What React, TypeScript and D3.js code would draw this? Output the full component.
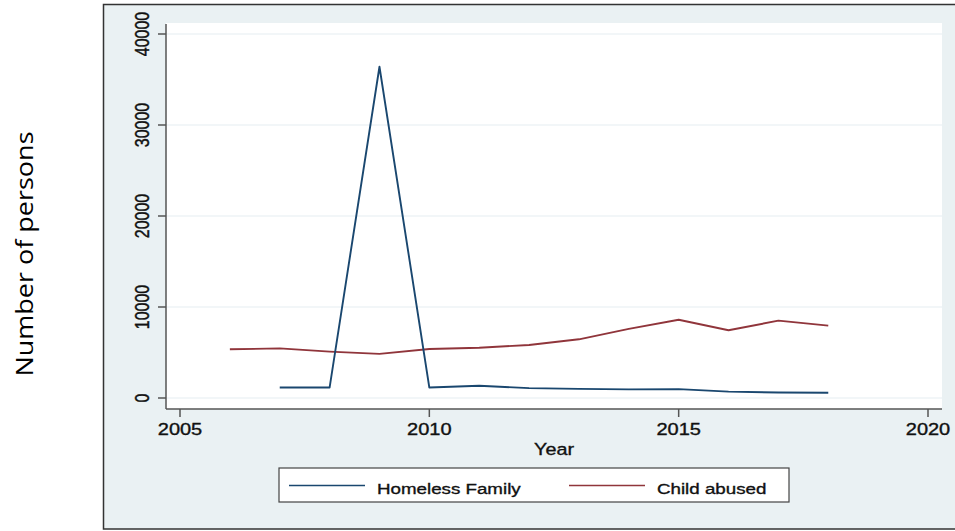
import React from "react";
import * as d3 from "d3";

const years = [2006, 2007, 2008, 2009, 2010, 2011, 2012, 2013, 2014, 2015, 2016, 2017, 2018];
const homelessYears = [2007, 2008, 2009, 2010, 2011, 2012, 2013, 2014, 2015, 2016, 2017, 2018];
const homelessFamily = [1150, 1150, 36400, 1150, 1350, 1080, 1000, 950, 980, 700, 600, 580];
const childAbused = [5350, 5450, 5100, 4850, 5380, 5530, 5820, 6450, 7600, 8600, 7450, 8500, 7950];
const xTicks = [2005, 2010, 2015, 2020];
const yTicks = [0, 10000, 20000, 30000, 40000];
const seriesNames = ["Homeless Family", "Child abused"];
const seriesColors = ["#1a476f", "#90353b"];

export default function App() {
  const W = 955, H = 531;
  const x = d3.scaleLinear().domain([2005, 2020]).range([180, 928]);
  const y = d3.scaleLinear().domain([0, 40000]).range([398, 34]);
  const plot = { left: 166, right: 942, top: 23, bottom: 409 };
  const font = "'Liberation Sans', Arial, sans-serif";

  const line = d3.line<[number, number]>().x(d => x(d[0])).y(d => y(d[1]));
  const hPath = line(homelessYears.map((yr, i) => [yr, homelessFamily[i]]));
  const cPath = line(years.map((yr, i) => [yr, childAbused[i]]));

  const sx = 1.25;
  const txt = { fontFamily: font, fill: "#111", stroke: "#111", strokeWidth: 0.35 };

  return (
    <svg width={W} height={H} style={{ position: "absolute", left: 0, top: 0, background: "#fff" }}>
      <rect x={103.5} y={4.5} width={870} height={524.5} fill="#eaf1f3" stroke="#333" strokeWidth={1.5} />
      <rect x={plot.left} y={plot.top} width={plot.right - plot.left} height={plot.bottom - plot.top} fill="#fff" />
      {yTicks.map(t => (
        <line key={"g" + t} x1={plot.left} x2={plot.right} y1={y(t)} y2={y(t)} stroke="#e6eef1" strokeWidth={1.2} />
      ))}
      <path d={cPath || ""} fill="none" stroke={seriesColors[1]} strokeWidth={1.9} strokeLinejoin="round" />
      <path d={hPath || ""} fill="none" stroke={seriesColors[0]} strokeWidth={1.9} strokeLinejoin="round" />
      {/* axes */}
      <line x1={plot.left} x2={plot.left} y1={plot.top + 1} y2={plot.bottom} stroke="#555" strokeWidth={1.5} />
      <line x1={plot.left} x2={plot.right} y1={plot.bottom} y2={plot.bottom} stroke="#555" strokeWidth={1.5} />
      {yTicks.map(t => (
        <g key={"y" + t}>
          <line x1={158} x2={plot.left} y1={y(t)} y2={y(t)} stroke="#555" strokeWidth={1.5} />
          <text transform={`translate(149,${y(t)}) scale(${sx},1) rotate(-90)`} textAnchor="middle"
            fontSize={16} {...txt}>{t}</text>
        </g>
      ))}
      {xTicks.map(t => (
        <g key={"x" + t}>
          <line x1={x(t)} x2={x(t)} y1={plot.bottom} y2={417} stroke="#555" strokeWidth={1.5} />
          <text transform={`translate(${x(t)},434.5) scale(${sx},1)`} textAnchor="middle"
            fontSize={16} {...txt}>{t}</text>
        </g>
      ))}
      <text transform={`translate(554,455) scale(1.2,1)`} textAnchor="middle" fontSize={16.5} {...txt}>Year</text>
      {/* legend */}
      <rect x={279} y={468} width={510} height={34} fill="#fff" stroke="#444" strokeWidth={1.2} />
      <line x1={289} x2={365} y1={485.5} y2={485.5} stroke={seriesColors[0]} strokeWidth={1.5} />
      <text transform={`translate(377,493.5) scale(1.21,1)`} fontSize={15.5} {...txt}>{seriesNames[0]}</text>
      <line x1={569} x2={645} y1={485.5} y2={485.5} stroke={seriesColors[1]} strokeWidth={1.5} />
      <text transform={`translate(657,493.5) scale(1.21,1)`} fontSize={15.5} {...txt}>{seriesNames[1]}</text>
      {/* outer y title */}
      <text transform="translate(33,254) rotate(-90)" textAnchor="middle" fontFamily="'Open Sans', 'Noto Sans', sans-serif"
        fontSize={23} fill="#000" textLength={245} lengthAdjust="spacingAndGlyphs">Number of persons</text>
    </svg>
  );
}
